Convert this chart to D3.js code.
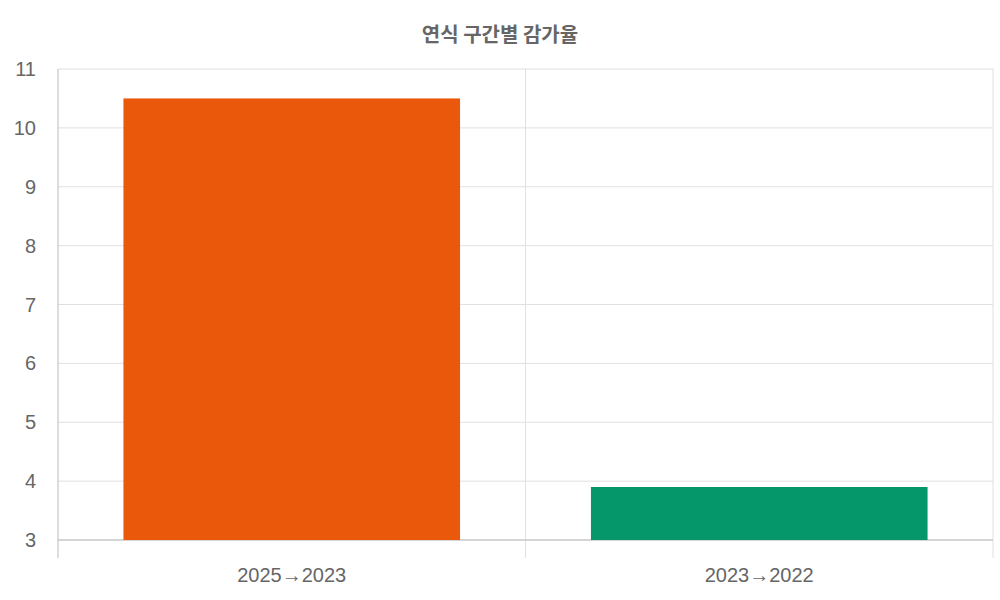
<!DOCTYPE html>
<html><head><meta charset="utf-8">
<script src="https://cdn.jsdelivr.net/npm/d3@7"></script>
<style>body{margin:0;background:#fff}</style>
</head><body><div id="chart"></div>
<script>
var categories = ['2025→2023', '2023→2022'];
var values = [10.5, 3.9];
var colors = ['#EA580C', '#059669'];
var yTicks = [3, 4, 5, 6, 7, 8, 9, 10, 11];
var title = '연식 구간별 감가율';

var margins = {left: 58, right: 7, top: 69, bottom: 60};
var width = 1000 - margins.left - margins.right;
var height = 600 - margins.top - margins.bottom;
var font = 'Liberation Sans, Arial, "Noto Sans CJK KR", sans-serif';

var svg = d3.select('#chart').append('svg')
  .attr('width', 1000).attr('height', 600)
  .style('font-family', font);

svg.append('text')
  .attr('x', 500).attr('y', 42)
  .attr('text-anchor', 'middle')
  .attr('fill', '#666').attr('font-size', 20).attr('font-weight', 'bold')
  .style('font-family', '"Noto Sans CJK KR", sans-serif')
  .text(title);

var g = svg.append('g').attr('transform', 'translate(' + margins.left + ',' + margins.top + ')');

var x = d3.scaleBand().domain(categories).range([0, width]).paddingInner(0).paddingOuter(0);
var y = d3.scaleLinear().domain([3, 11]).range([height, 0]);

// horizontal grid
g.selectAll('.hgrid').data(yTicks).enter().append('line')
  .attr('x1', 0).attr('x2', width)
  .attr('y1', function(d) { return y(d); }).attr('y2', function(d) { return y(d); })
  .attr('stroke', '#e0e0e0').attr('stroke-width', 1);

// vertical grid at band edges
var edges = [0, x.bandwidth(), width];
g.selectAll('.vgrid').data(edges).enter().append('line')
  .attr('x1', function(d) { return d; }).attr('x2', function(d) { return d; })
  .attr('y1', 0).attr('y2', height + 18)
  .attr('stroke', function(d, i) { return i === 0 ? '#bbb' : '#e0e0e0'; });

g.append('line').attr('x1', 0).attr('x2', width).attr('y1', height).attr('y2', height).attr('stroke', '#bbb');

var barW = x.bandwidth() * 0.72;
g.selectAll('.bar').data(values).enter().append('rect')
  .attr('x', function(d, i) { return x(categories[i]) + (x.bandwidth() - barW) / 2; })
  .attr('width', barW)
  .attr('y', function(d) { return y(d); })
  .attr('height', function(d) { return y(3) - y(d); })
  .attr('fill', function(d, i) { return colors[i]; });

g.selectAll('.ylab').data(yTicks).enter().append('text')
  .attr('x', -22).attr('y', function(d) { return y(d); })
  .attr('dy', '0.35em').attr('text-anchor', 'end')
  .attr('fill', '#666').attr('font-size', 20)
  .text(function(d) { return d; });

g.selectAll('.xlab').data(categories).enter().append('text')
  .attr('x', function(d) { return x(d) + x.bandwidth() / 2; })
  .attr('y', height + 42).attr('text-anchor', 'middle')
  .attr('fill', '#666').attr('font-size', 20)
  .text(function(d) { return d; });
</script></body></html>
